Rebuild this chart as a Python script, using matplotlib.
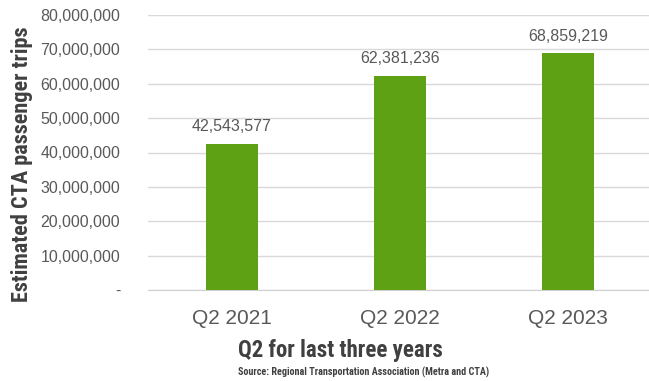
"""
CTA ridership, Q2 of the last three years
"""

import matplotlib.pyplot as plt
from matplotlib.ticker import FuncFormatter

quarters = ['Q2 2021', 'Q2 2022', 'Q2 2023']
trips = [42543577, 62381236, 68859219]

GREEN = '#5ea114'
GREY = '#595959'

def fmt(v, pos):
    if v == 0:
        return '-'
    return f'{int(v):,}'

fig = plt.figure(figsize=(6.49, 3.81), dpi=100)
ax = fig.add_axes([148/649, 1 - 290/381, 1 - 148/649, 275/381])

x = range(len(quarters))
bars = ax.bar(x, trips, width=0.315, color=GREEN, zorder=3)
for b, v in zip(bars, trips):
    ax.annotate(f'{v:,}', (b.get_x() + b.get_width()/2, v), xytext=(0, 7),
                textcoords='offset points', ha='center', va='bottom',
                fontsize=11.5, color=GREY, family='Liberation Sans')

ax.set_xlim(-0.5, 2.482)
ax.set_ylim(0, 80000000)
ax.set_yticks(range(0, 80000001, 10000000))
ax.yaxis.set_major_formatter(FuncFormatter(fmt))
ax.set_xticks(list(x))
ax.set_xticklabels(quarters)

ax.grid(axis='y', color='#d9d9d9', linewidth=1, zorder=0)
for s in ['top', 'right', 'left']:
    ax.spines[s].set_visible(False)
ax.spines['bottom'].set_color('#d0d0d0')
ax.tick_params(axis='both', length=0)
ax.tick_params(axis='y', pad=20, labelsize=11.5, labelcolor=GREY)
ax.tick_params(axis='x', pad=14, labelsize=15, labelcolor=GREY)
for lab in ax.get_xticklabels() + ax.get_yticklabels():
    lab.set_family('Liberation Sans')

cond = ['Roboto Condensed', 'Asap Condensed', 'DejaVu Sans']
fig.text(22/649, 1 - 164/381, 'Estimated CTA passenger trips', rotation=90,
         ha='center', va='center', fontsize=16, fontweight='bold',
         color='#404040', family=cond)
fig.text(340/649, 1 - 350/381, 'Q2 for last three years', ha='center',
         va='center', fontsize=16.5, fontweight='bold', color='#404040',
         family=cond)
fig.text(364/649, 1 - 372/381,
         'Source: Regional Transportation Association (Metra and CTA)',
         ha='center', va='center', fontsize=7.3, fontweight='bold',
         color='#404040', family=cond)

fig.savefig('out.png', dpi=100)
